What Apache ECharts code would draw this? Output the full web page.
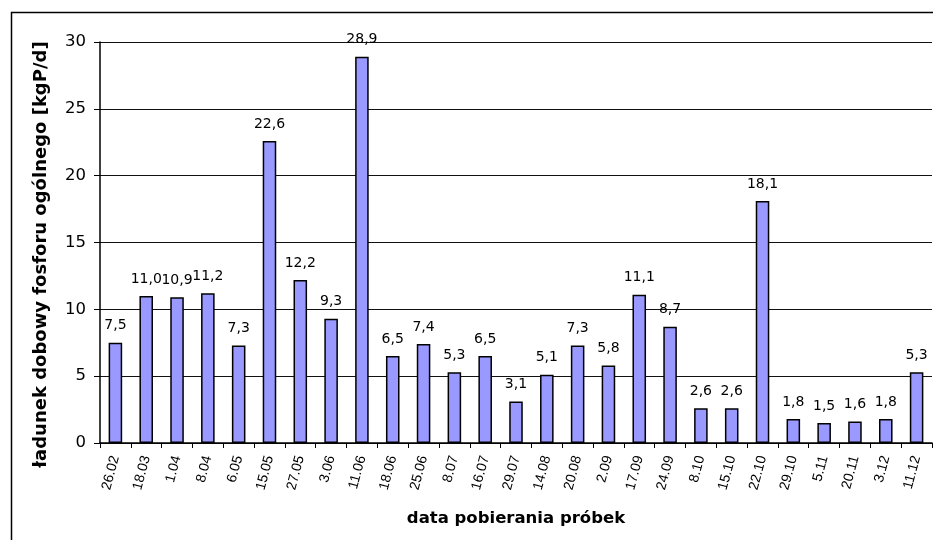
<!DOCTYPE html>
<html>
<head>
<meta charset="utf-8">
<script src="https://cdn.jsdelivr.net/npm/echarts@6/dist/echarts.min.js"></script>
<style>
  html, body { margin: 0; padding: 0; background: #fff; }
  #chart { width: 933px; height: 540px; }
</style>
</head>
<body>
<div id="chart"></div>
<script>
// daty poboru
var dates = ['26.02', '18.03', '1.04', '8.04', '6.05', '15.05', '27.05', '3.06', '11.06',
	'18.06', '25.06', '8.07', '16.07', '29.07', '14.08', '20.08', '2.09', '17.09', '24.09',
	'8.10', '15.10', '22.10', '29.10', '5.11', '20.11', '3.12', '11.12'];
// ladunek fosforu [kgP/d]
var loads = [7.5, 11.0, 10.9, 11.2, 7.3, 22.6, 12.2, 9.3, 28.9,
	6.5, 7.4, 5.3, 6.5, 3.1, 5.1, 7.3, 5.8, 11.1, 8.7,
	2.6, 2.6, 18.1, 1.8, 1.5, 1.6, 1.8, 5.3];
var yMin = 0, yMax = 30, yStep = 5;

var myChart = echarts.init(document.getElementById('chart'));
var font = 'DejaVu Sans, sans-serif';
var fontNarrow = 'Liberation Sans, Arial, sans-serif';

var option = {
	animation: false,
	textStyle: { fontFamily: font },
	graphic: [
		{
			type: 'rect',
			shape: { x: 11.5, y: 12.5, width: 940, height: 540 },
			style: { fill: 'none', stroke: '#000', lineWidth: 1.5 },
			silent: true
		}
	],
	grid: {
		left: 100,
		right: 1,
		top: 42,
		bottom: 97
	},
	xAxis: {
		type: 'category',
		data: dates,
		name: 'data pobierania próbek',
		nameLocation: 'middle',
		nameGap: 67,
		nameTextStyle: { fontSize: 16.5, fontWeight: 'bold', color: '#000', fontFamily: font },
		axisLine: { lineStyle: { color: '#000', width: 1.5 } },
		axisTick: { show: true, alignWithLabel: false, length: 5, lineStyle: { color: '#000' } },
		axisLabel: {
			rotate: 75,
			interval: 0,
			fontSize: 14,
			color: '#000',
			margin: 13,
			fontFamily: fontNarrow
		}
	},
	yAxis: {
		type: 'value',
		min: yMin,
		max: yMax,
		interval: yStep,
		name: 'ładunek dobowy fosforu ogólnego [kgP/d]',
		nameLocation: 'middle',
		nameGap: 50,
		nameTextStyle: {
			fontSize: 18,
			fontWeight: 'bold',
			color: '#000',
			fontFamily: font,
			padding: [0, 24, 0, 0]
		},
		axisLine: { show: true, lineStyle: { color: '#000', width: 1.5 } },
		axisTick: { show: true, length: 6, lineStyle: { color: '#000' } },
		axisLabel: { fontSize: 16.5, color: '#000', margin: 14, fontFamily: font },
		splitLine: { lineStyle: { color: '#111', width: 1.2 } }
	},
	series: [
		{
			type: 'bar',
			data: loads,
			barWidth: '44%',
			itemStyle: { color: '#9999FF', borderColor: '#000', borderWidth: 1.5 },
			label: {
				show: true,
				position: 'top',
				distance: 10,
				fontSize: 14,
				color: '#000',
				fontFamily: font,
				formatter: function (p) { return p.value.toFixed(1).replace('.', ','); }
			}
		}
	]
};

myChart.setOption(option);
</script>
</body>
</html>
